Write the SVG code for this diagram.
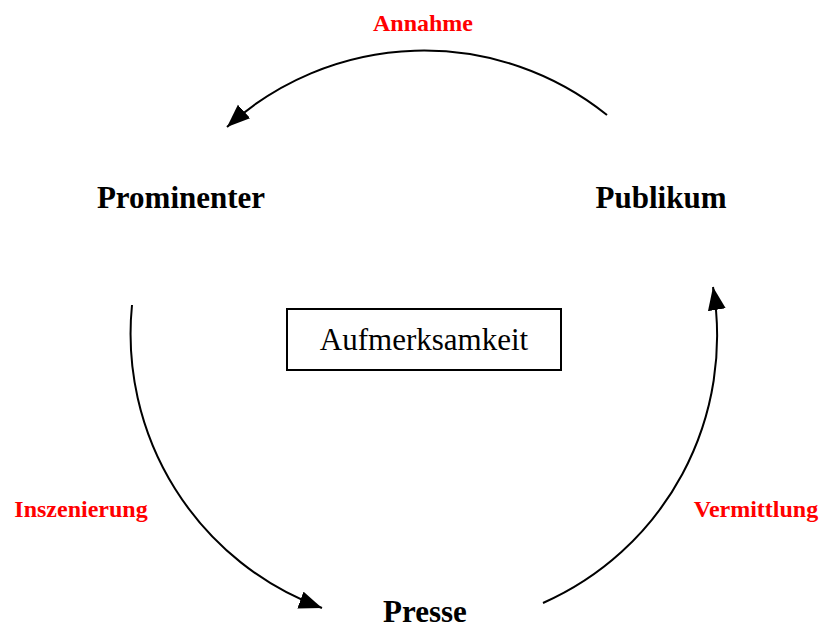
<svg xmlns="http://www.w3.org/2000/svg" width="824" height="629" viewBox="0 0 824 629">
<defs>
<style>
.node{font-family:"Liberation Serif","Times New Roman",serif;font-weight:bold;font-size:31px;fill:#000;text-anchor:middle}
.lbl{font-family:"Liberation Serif","Times New Roman",serif;font-weight:bold;font-size:24px;fill:#ff0000;text-anchor:middle}
.center{font-family:"Liberation Serif","Times New Roman",serif;font-size:31px;fill:#000;text-anchor:middle}
.arc{fill:none;stroke:#000;stroke-width:2;marker-end:url(#ah)}
</style>
<marker id="ah" markerUnits="userSpaceOnUse" markerWidth="26" markerHeight="20" refX="23" refY="9" orient="auto">
<path d="M0,0 L23,9 L0,18 z" fill="#000"/>
</marker>
</defs>
<rect width="824" height="629" fill="#fff"/>
<g id="connectors">
<path class="arc" d="M607,115 A292,292 0 0 0 227,127"/>
<path class="arc" d="M132,305 A292,292 0 0 0 322,608"/>
<path class="arc" d="M543,603 A292,292 0 0 0 713,287"/>
<text class="lbl" x="423" y="31">Annahme</text>
<text class="lbl" x="81" y="517">Inszenierung</text>
<text class="lbl" x="756" y="517">Vermittlung</text>
</g>
<g id="prominenter"><text class="node" x="181" y="208">Prominenter</text></g>
<g id="publikum"><text class="node" x="661" y="208">Publikum</text></g>
<g id="presse"><text class="node" x="425" y="622">Presse</text></g>
<g id="aufmerksamkeit">
<rect x="287" y="309" width="274" height="61" fill="#fff" stroke="#000" stroke-width="2"/>
<text class="center" x="424" y="350">Aufmerksamkeit</text>
</g>
</svg>
